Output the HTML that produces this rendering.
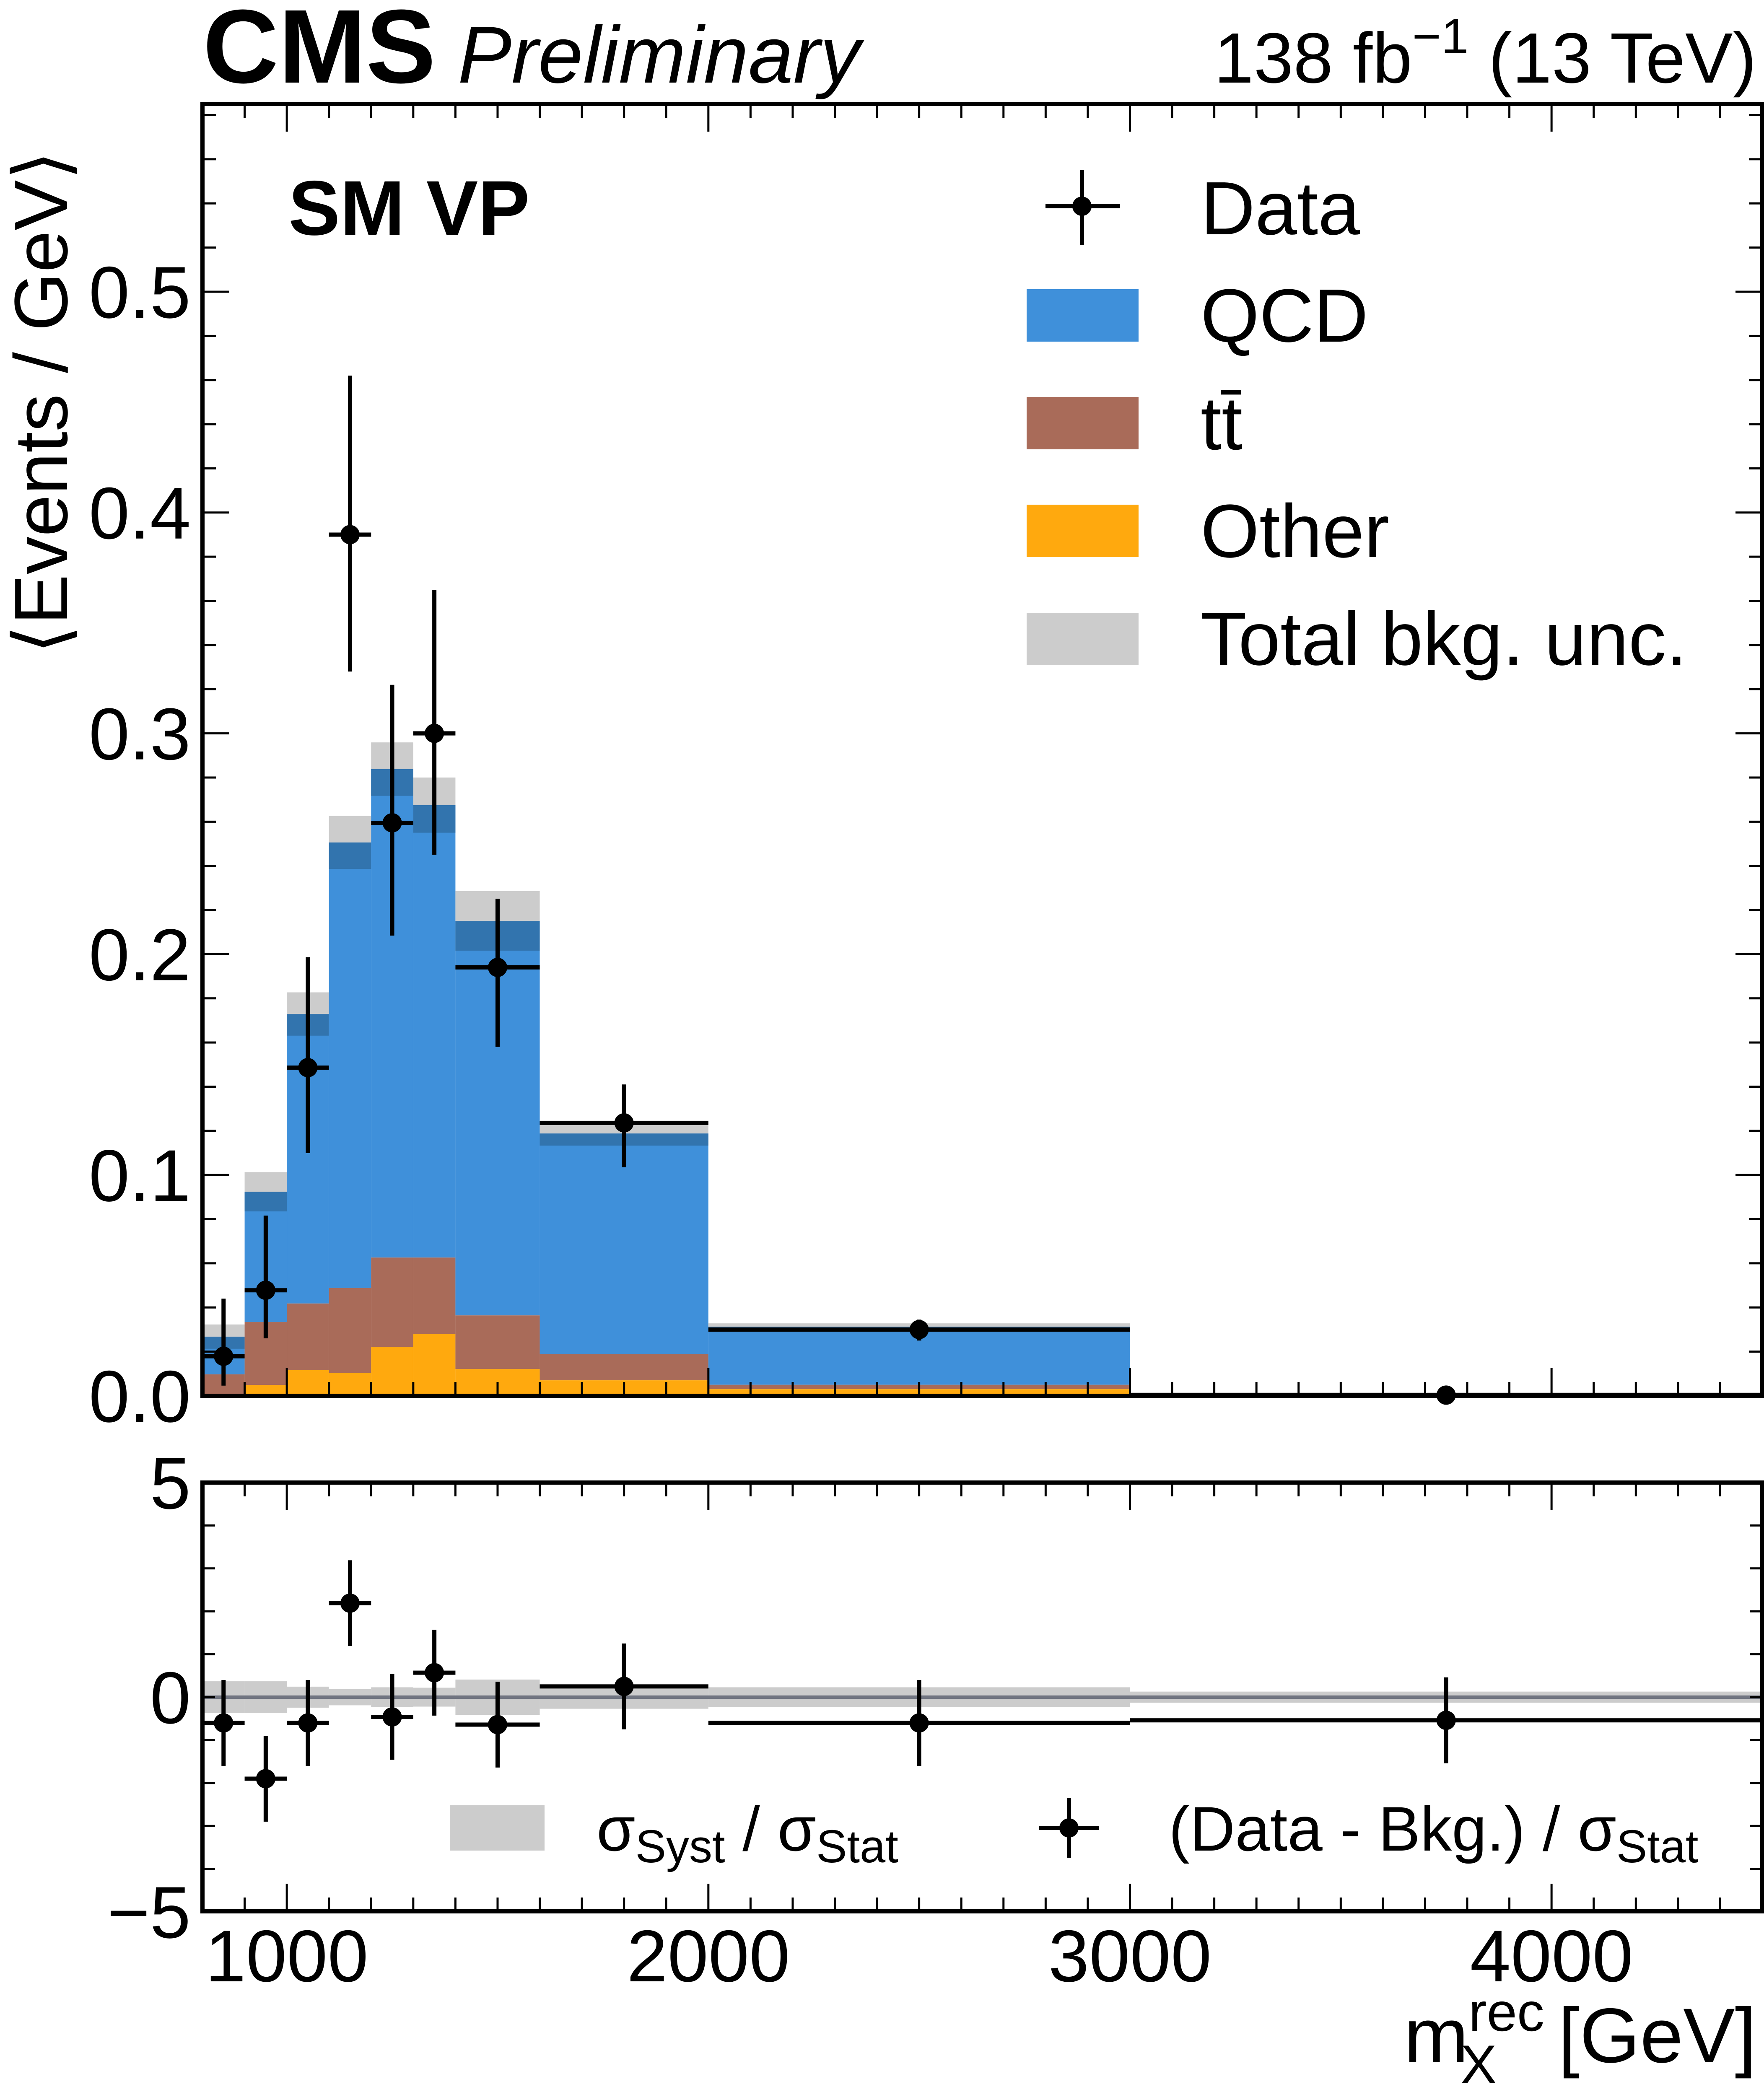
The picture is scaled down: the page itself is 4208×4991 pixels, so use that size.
<!DOCTYPE html>
<html><head><meta charset="utf-8"><style>
html,body{margin:0;padding:0;background:#fff}
svg{display:block;font-family:"Liberation Sans",Arial,sans-serif}
</style></head><body>
<svg id="chart" width="4208" height="4991" viewBox="0 0 4208 4991" xmlns="http://www.w3.org/2000/svg">
<g id="main-marks"></g>
<g id="ratio-marks"></g>
<g id="axes"></g>
<text x="484" y="197" font-size="250" font-weight="bold">CMS</text>
<text x="1092" y="197" font-size="192" font-style="italic">Preliminary</text>
<text x="4190" y="197" font-size="170" text-anchor="end">138 fb<tspan dy="-70" font-size="118">−1</tspan><tspan dy="70"> (13 TeV)</tspan></text>
<text x="688" y="560" font-size="185" font-weight="bold">SM VP</text>
<g>
<line x1="2494" y1="492" x2="2672" y2="492" stroke="#000" stroke-width="10"/>
<line x1="2581" y1="406" x2="2581" y2="584" stroke="#000" stroke-width="10"/>
<circle cx="2581" cy="492" r="23" fill="#000"/>
<text x="2864" y="559" font-size="180">Data</text>
<rect x="2449" y="690" width="267" height="125" fill="#3f90da"/>
<text x="2864" y="815" font-size="180">QCD</text>
<rect x="2449" y="947" width="267" height="125" fill="#a96b59"/>
<text x="2864" y="1072" font-size="180">tt̄</text>
<rect x="2449" y="1204" width="267" height="125" fill="#ffa90e"/>
<text x="2864" y="1329" font-size="180">Other</text>
<rect x="2449" y="1462" width="267" height="125" fill="#cccccc"/>
<text x="2864" y="1586" font-size="180">Total bkg. unc.</text>
</g>
<g>
<rect x="1073" y="4307" width="226" height="108" fill="#cccccc"/>
<text x="1423" y="4415" font-size="150">σ<tspan dy="28" font-size="110">Syst</tspan><tspan dy="-28"> / σ</tspan><tspan dy="28" font-size="110">Stat</tspan></text>
<line x1="2478" y1="4361" x2="2622" y2="4361" stroke="#000" stroke-width="10"/>
<line x1="2550" y1="4290" x2="2550" y2="4432" stroke="#000" stroke-width="10"/>
<circle cx="2550" cy="4361" r="23" fill="#000"/>
<text x="2788" y="4415" font-size="150">(Data - Bkg.) / σ<tspan dy="28" font-size="110">Stat</tspan></text>
</g>
<text transform="translate(160,960) rotate(-90)" font-size="180" text-anchor="middle">⟨Events / GeV⟩</text>
<text x="4190" y="4920" font-size="185" text-anchor="end">m<tspan dy="-75" font-size="130">rec</tspan><tspan dx="-200" dy="125" font-size="130">X</tspan><tspan dy="-50" dx="95"> [GeV]</tspan></text>
</svg>
<script>
const binEdges = [800,900,1000,1100,1200,1300,1400,1600,2000,3000,4500];
const otherVals = [0.0005,0.0049,0.0116,0.0103,0.0222,0.028,0.0121,0.007,0.003,0.0004];
const ttbarVals = [0.0092,0.0285,0.0302,0.0385,0.0404,0.0346,0.0243,0.0118,0.002,0.0004];
const totalVals = [0.0268,0.0924,0.1729,0.2506,0.2838,0.2675,0.2151,0.1188,0.0313,0.0012];
const uncVals = [0.0055,0.0089,0.0098,0.012,0.0121,0.0125,0.0135,0.0055,0.0015,0.0003];
const dataVals = [0.0179,0.0478,0.1486,0.39,0.2595,0.30,0.194,0.1236,0.030,0.0003];
const dataUp = [0.044,0.0816,0.1986,0.462,0.322,0.365,0.2251,0.141,0.0345,0.0006];
const dataDown = [0.0046,0.026,0.1099,0.328,0.2084,0.245,0.158,0.1035,0.025,0.0];
const dataX = [850,950,1050,1150,1250,1350,1500,1800,2500,3750];
const pullVals = [-0.6,-1.9,-0.6,2.19,-0.46,0.57,-0.64,0.25,-0.6,-0.54];
const pullErr = [1,1,1,1,1,1,1,1,1,1];
const systBand = [0.37,0.37,0.245,0.19,0.23,0.22,0.41,0.27,0.23,0.13];
const mainYTicks = ["0.0","0.1","0.2","0.3","0.4","0.5"];
const ratioYTicks = ["-5","0","5"];
const xTicks = ["1000","2000","3000","4000"];

const NS="http://www.w3.org/2000/svg";
const X0=483,X1=4204,MT=248,MB=3330,RT=3537,RB=4560;
const xs=v=>X0+(v-800)/3700*(X1-X0);
const ym=v=>MB-v*5268;
const yr=v=>4049-v*102.4;
function mk(tag,attrs,parent){const e=document.createElementNS(NS,tag);for(const k in attrs)e.setAttribute(k,attrs[k]);parent.appendChild(e);return e;}
const gm=document.getElementById('main-marks');
const gr=document.getElementById('ratio-marks');
const ga=document.getElementById('axes');

for(let i=0;i<totalVals.length;i++){
  const a=xs(binEdges[i]),b=xs(binEdges[i+1]),w=b-a;
  const o=otherVals[i],t=o+ttbarVals[i],T=totalVals[i],u=uncVals[i];
  let r=mk('rect',{x:a,y:ym(T),width:w,height:ym(t)-ym(T),fill:'#3f90da'},gm);
  
  
  r=mk('rect',{x:a,y:ym(t),width:w,height:ym(o)-ym(t),fill:'#a96b59'},gm);
  
  
  r=mk('rect',{x:a,y:ym(o),width:w,height:ym(0)-ym(o),fill:'#ffa90e'},gm);
  
  
  r=mk('rect',{x:a,y:ym(T),width:w,height:ym(T-u)-ym(T),fill:'#3274ae'},gm);
  
  
  r=mk('rect',{x:a,y:ym(T+u),width:w,height:ym(T)-ym(T+u),fill:'#cccccc'},gm);
  
  
  r=mk('rect',{x:a,y:yr(systBand[i]),width:w,height:yr(-systBand[i])-yr(systBand[i]),fill:'#cccccc'},gr);
  
  
}
let cl=mk('line',{x1:X0,x2:X1,y1:yr(0),y2:yr(0),stroke:'#717581','stroke-width':8},gr);



for(let i=0;i<dataVals.length;i++){
  const a=xs(binEdges[i]),b=xs(binEdges[i+1]),cx=xs(dataX[i]);
  const g=mk('g',{},gm);
  
  
  mk('line',{x1:a,x2:b,y1:ym(dataVals[i]),y2:ym(dataVals[i]),stroke:'#000','stroke-width':10},g);
  mk('line',{x1:cx,x2:cx,y1:ym(dataUp[i]),y2:ym(dataDown[i]),stroke:'#000','stroke-width':10},g);
  mk('circle',{cx:cx,cy:ym(dataVals[i]),r:23,fill:'#000'},g);
  const h=mk('g',{},gr);
  
  
  const p=pullVals[i];
  mk('line',{x1:a,x2:b,y1:yr(p),y2:yr(p),stroke:'#000','stroke-width':10},h);
  mk('line',{x1:cx,x2:cx,y1:yr(p+pullErr[i]),y2:yr(p-pullErr[i]),stroke:'#000','stroke-width':10},h);
  mk('circle',{cx:cx,cy:yr(p),r:23,fill:'#000'},h);
}

for(let v=800;v<=4500;v+=100){
  const x=xs(v),maj=v%1000===0,L=maj?66:33;
  [[MT,1],[MB,-1],[RT,1],[RB,-1]].forEach(([y,d])=>mk('line',{x1:x,x2:x,y1:y,y2:y+d*L,stroke:'#000','stroke-width':5},ga));
}
for(let k=0;k<=29;k++){
  const v=k*0.02,y=ym(v),L=(k%5===0)?64:32;
  mk('line',{x1:X0,x2:X0+L,y1:y,y2:y,stroke:'#000','stroke-width':5},ga);
  mk('line',{x1:X1,x2:X1-L,y1:y,y2:y,stroke:'#000','stroke-width':5},ga);
}
for(let v=-4;v<=4;v++){
  const y=yr(v);
  mk('line',{x1:X0,x2:X0+30,y1:y,y2:y,stroke:'#000','stroke-width':5},ga);
  mk('line',{x1:X1,x2:X1-30,y1:y,y2:y,stroke:'#000','stroke-width':5},ga);
}
let f=mk('rect',{x:X0,y:MT,width:X1-X0,height:MB-MT,fill:'none',stroke:'#000','stroke-width':10},ga);


f=mk('rect',{x:X0,y:RT,width:X1-X0,height:RB-RT,fill:'none',stroke:'#000','stroke-width':10},ga);



mainYTicks.forEach(s=>{
  const t=mk('text',{x:455,y:ym(parseFloat(s))+62,'font-size':175,'text-anchor':'end'},ga);
  
  
  t.textContent=s;
});
ratioYTicks.forEach(s=>{
  const t=mk('text',{x:455,y:yr(parseFloat(s))+62,'font-size':175,'text-anchor':'end'},ga);
  
  
  t.textContent=s.replace('-','−');
});
xTicks.forEach(s=>{
  const t=mk('text',{x:xs(parseFloat(s)),y:4727,'font-size':175,'text-anchor':'middle'},ga);
  
  
  t.textContent=s;
});
</script>
</body></html>
